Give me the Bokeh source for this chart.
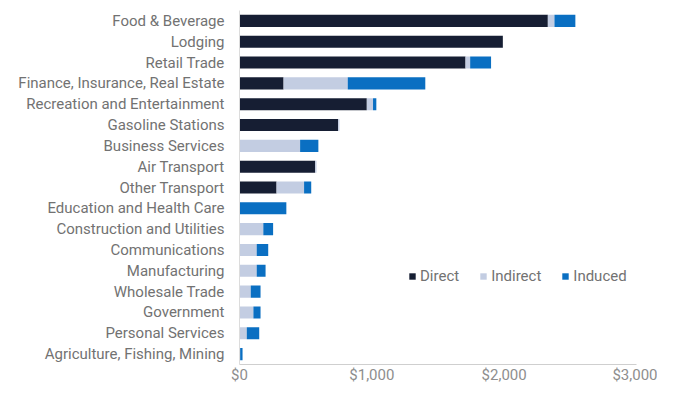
from bokeh.plotting import figure
from bokeh.models import FactorRange, Range1d, SingleIntervalTicker, NumeralTickFormatter, Legend, LegendItem
from bokeh.embed import file_html
from bokeh.resources import INLINE

categories = ["Food & Beverage", "Lodging", "Retail Trade", "Finance, Insurance, Real Estate",
              "Recreation and Entertainment", "Gasoline Stations", "Business Services",
              "Air Transport", "Other Transport", "Education and Health Care",
              "Construction and Utilities", "Communications", "Manufacturing",
              "Wholesale Trade", "Government", "Personal Services",
              "Agriculture, Fishing, Mining"]
direct = [2330, 1990, 1708, 333, 962, 745, 0, 572, 280, 0, 0, 0, 0, 0, 0, 0, 0]
indirect = [50, 0, 35, 485, 47, 10, 458, 10, 208, 0, 180, 130, 130, 85, 105, 55, 5]
induced = [158, 0, 158, 586, 25, 0, 138, 0, 54, 354, 74, 87, 67, 74, 54, 94, 18]
series = ["Direct", "Indirect", "Induced"]
colors = ["#161e33", "#c3cde2", "#0a6fc2"]

data = {"cat": categories, "Direct": direct, "Indirect": indirect, "Induced": induced}

p = figure(width=657, height=386, output_backend="svg", toolbar_location=None,
           y_range=FactorRange(factors=categories[::-1], range_padding=0),
           x_range=Range1d(0, 3000))
p.min_border_left = 239
p.min_border_right = 21
p.min_border_top = 10
p.min_border_bottom = 18
p.outline_line_color = None
p.background_fill_color = "white"

renderers = p.hbar_stack(series, y="cat", height=0.58, color=colors, source=data, line_width=0)

p.xgrid.visible = False
p.ygrid.visible = False

p.xaxis.ticker = SingleIntervalTicker(interval=1000)
p.xaxis.formatter = NumeralTickFormatter(format="$0,0")
p.xaxis.major_label_text_font = "Roboto"
p.xaxis.major_label_text_font_size = "15px"
p.xaxis.major_label_text_color = "#8e8e8e"
p.xaxis.major_tick_line_color = None
p.xaxis.minor_tick_line_color = None
p.xaxis.major_tick_out = 0
p.xaxis.major_tick_in = 0
p.xaxis.minor_tick_out = 0
p.xaxis.minor_tick_in = 0
p.xaxis.axis_line_color = "#cfcfcf"
p.xaxis.major_label_standoff = 1

p.yaxis.major_label_text_font = "Roboto"
p.yaxis.major_label_text_font_size = "15px"
p.yaxis.major_label_text_color = "#727272"
p.yaxis.major_tick_line_color = None
p.yaxis.minor_tick_line_color = None
p.yaxis.major_tick_out = 0
p.yaxis.major_tick_in = 0
p.yaxis.axis_line_color = "#dcdcdc"
p.yaxis.major_label_standoff = 15

legend = Legend(items=[LegendItem(label=s, renderers=[r]) for s, r in zip(series, renderers)],
                orientation="horizontal", location=(169, 79))
legend.label_text_font = "Roboto"
legend.label_text_font_size = "15px"
legend.label_text_color = "#727272"
legend.glyph_width = 8
legend.glyph_height = 8
legend.label_standoff = 4
legend.spacing = 20
legend.border_line_color = None
legend.background_fill_alpha = 0
p.add_layout(legend)

open("out.html", "w").write(file_html(p, INLINE))
